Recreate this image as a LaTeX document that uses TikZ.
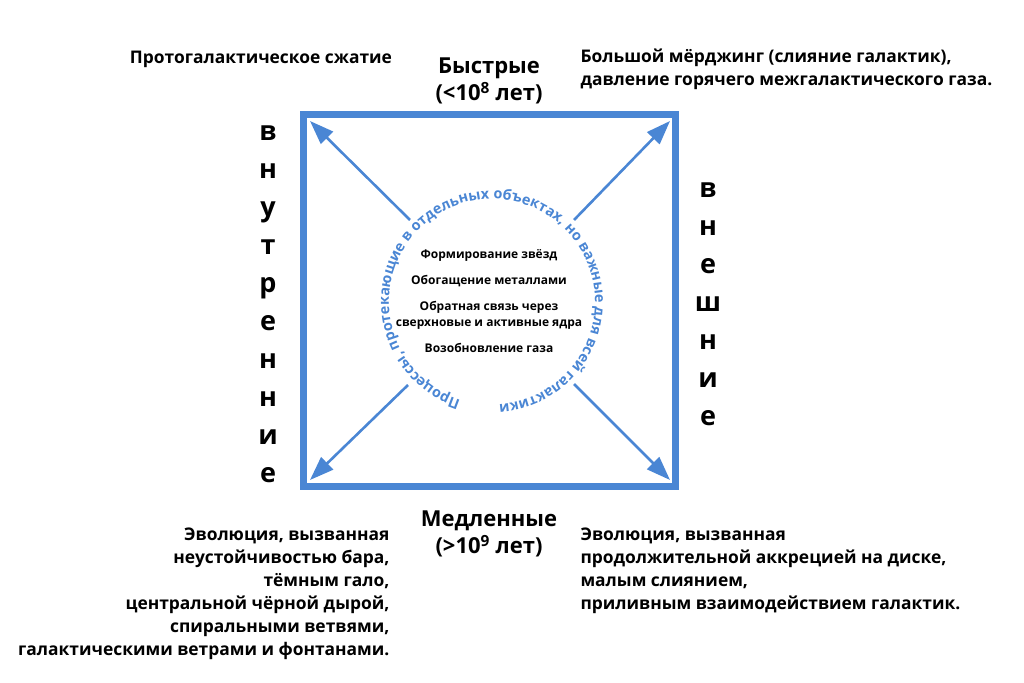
\documentclass[tikz,border=0pt]{standalone}
\usepackage{fontspec}
\setmainfont{Open Sans}
\usetikzlibrary{decorations.text,arrows.meta}
\definecolor{bl}{HTML}{4A86D4}
\begin{document}
\begin{tikzpicture}[x=1pt,y=1pt,
  hd/.style={font=\bfseries\fontsize{22}{27}\selectfont,align=center},
  vt/.style={font=\bfseries\fontsize{27}{38}\selectfont,align=center},
  cn/.style={font=\bfseries\fontsize{17.4}{23}\selectfont},
  ls/.style={font=\bfseries\fontsize{12}{16}\selectfont,align=center},
  arr/.style={bl,line width=2.6pt,-{Triangle[length=24pt,width=17pt]}}]
\useasboundingbox (0,0) rectangle (1024,682);
\node[draw=bl,line width=7pt,minimum size=372pt,inner sep=0] (sq) at (489,381) {};
\node[hd] (fast) at (489,601) {Быстрые\\(<10\textsuperscript{8} лет)};
\node[hd] (slow) at (489,148) {Медленные\\(>10\textsuperscript{9} лет)};
\node[cn] (tl) at (261,623) {Протогалактическое сжатие};
\node[cn,align=left,anchor=north west] (tr) at (577,637) {Большой мёрджинг (слияние галактик),\\давление горячего межгалактического газа.};
\node[cn,align=right,anchor=north east] (bl) at (393,158) {Эволюция, вызванная\\неустойчивостью бара,\\тёмным гало,\\центральной чёрной дырой,\\спиральными ветвями,\\галактическими ветрами и фонтанами.};
\node[cn,align=left,anchor=north west] (br) at (577,158) {Эволюция, вызванная\\продолжительной аккрецией на диске,\\малым слиянием,\\приливным взаимодействием галактик.};
\node[vt] (inn) at (268,378) {в\\н\\у\\т\\р\\е\\н\\н\\и\\е};
\node[vt] (out) at (708,378) {в\\н\\е\\ш\\н\\и\\е};
\node[ls] (l1) at (489,427) {Формирование звёзд};
\node[ls] (l2) at (489,401) {Обогащение металлами};
\node[ls] (l3) at (489,367) {Обратная связь через\\сверхновые и активные ядра};
\node[ls] (l4) at (489,334) {Возобновление газа};
\coordinate (c) at (492,380);
\coordinate (a1) at (410,462); \coordinate (e1) at (310,561);
\coordinate (a2) at (574,462); \coordinate (e2) at (670,561);
\coordinate (a3) at (408,297); \coordinate (e3) at (310,202);
\coordinate (a4) at (574,298); \coordinate (e4) at (670,202);
\draw[arr] (a1) -- (e1);
\draw[arr] (a2) -- (e2);
\draw[arr] (a3) -- (e3);
\draw[arr] (a4) -- (e4);
\path[decorate,decoration={text along path,text align=center,
  text={|\bfseries\fontsize{14.4}{14}\selectfont\color{bl}|Процессы, протекающие в отдельных объектах, но важные для всей галактики}}]
  (c) ++(256:103) arc[start angle=256,end angle=-90,radius=103];
\end{tikzpicture}
\end{document}
